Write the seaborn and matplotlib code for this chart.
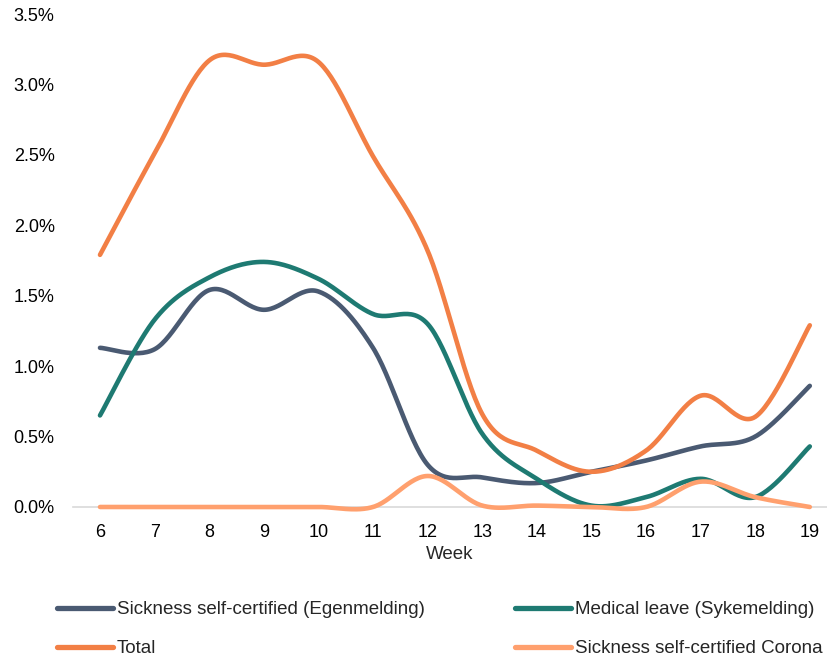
import numpy as np
import pandas as pd
import seaborn as sns
import matplotlib.pyplot as plt
from matplotlib.ticker import FuncFormatter

weeks = [6, 7, 8, 9, 10, 11, 12, 13, 14, 15, 16, 17, 18, 19]

# sickness absence, % of employees
egenmelding = [1.13, 1.12, 1.54, 1.40, 1.53, 1.13, 0.30, 0.21, 0.17, 0.25, 0.33, 0.43, 0.50, 0.86]
sykemelding = [0.65, 1.33, 1.63, 1.74, 1.62, 1.37, 1.30, 0.52, 0.20, 0.01, 0.07, 0.20, 0.07, 0.43]
total = [1.79, 2.51, 3.17, 3.14, 3.16, 2.49, 1.82, 0.66, 0.40, 0.25, 0.40, 0.79, 0.64, 1.29]
corona = [0.0, 0.0, 0.0, 0.0, 0.0, 0.0, 0.22, 0.01, 0.01, 0.0, 0.0, 0.18, 0.07, 0.0]

series_names = ["Sickness self-certified (Egenmelding)", "Medical leave (Sykemelding)",
                "Total", "Sickness self-certified Corona"]
colors = ["#4A5A72", "#1E7A72", "#F27F45", "#FFA06E"]


def smooth(x, y, n=30):
    # Excel-style smoothed line (Catmull-Rom through the points)
    x = np.asarray(x, float)
    y = np.asarray(y, float)
    xs, ys = [], []
    for i in range(len(x) - 1):
        x0, y0 = (x[i - 1], y[i - 1]) if i > 0 else (x[i], y[i])
        x3, y3 = (x[i + 2], y[i + 2]) if i + 2 < len(x) else (x[i + 1], y[i + 1])
        c1 = (x[i] + (x[i + 1] - x0) / 6, y[i] + (y[i + 1] - y0) / 6)
        c2 = (x[i + 1] - (x3 - x[i]) / 6, y[i + 1] - (y3 - y[i]) / 6)
        t = np.linspace(0, 1, n, endpoint=False)
        b = [(1 - t) ** 3, 3 * (1 - t) ** 2 * t, 3 * (1 - t) * t ** 2, t ** 3]
        xs.append(b[0] * x[i] + b[1] * c1[0] + b[2] * c2[0] + b[3] * x[i + 1])
        ys.append(b[0] * y[i] + b[1] * c1[1] + b[2] * c2[1] + b[3] * y[i + 1])
    xs.append([x[-1]])
    ys.append([y[-1]])
    return np.concatenate(xs), np.concatenate(ys)


frames = []
for name, vals in zip(series_names, [egenmelding, sykemelding, total, corona]):
    sx, sy = smooth(weeks, vals)
    frames.append(pd.DataFrame({"week": sx, "value": sy, "series": name}))
df = pd.concat(frames, ignore_index=True)

sns.set_style("white")
plt.rcParams['font.family'] = ['Liberation Sans', 'DejaVu Sans']

fig = plt.figure(figsize=(8.27, 6.58), dpi=100)
ax = fig.add_axes([0.0879, 0.2295, 0.9121, 0.7492])

sns.lineplot(data=df, x="week", y="value", hue="series", hue_order=series_names,
             palette=dict(zip(series_names, colors)), linewidth=3.3,
             sort=False, estimator=None, ax=ax, legend=False)
for line in ax.lines:
    line.set_solid_capstyle("round")
    line.set_clip_on(False)
    line.set_zorder(3)

ax.set_xlim(5.5, 19.315)
ax.set_ylim(0, 3.5)
ax.set_xticks(weeks)
ax.set_yticks(np.arange(0, 3.51, 0.5))
ax.yaxis.set_major_formatter(FuncFormatter(lambda v, p: f"{v:.1f}%"))
ax.tick_params(axis="both", length=0, labelsize=13, colors="black")
ax.tick_params(axis="y", pad=13)
ax.tick_params(axis="x", pad=12)
ax.set_xlabel("Week", fontsize=13.5, labelpad=3.5)
ax.set_ylabel("")
for s in ["top", "right", "left"]:
    ax.spines[s].set_visible(False)
ax.spines["bottom"].set_color("#D9D9D9")
ax.spines["bottom"].set_linewidth(1.2)
ax.spines["bottom"].set_zorder(1)

# legend: column-first order gives rows (Sickness, Medical) / (Total, Corona)
handles = [plt.Line2D([], [], color=c, lw=3.8, solid_capstyle="round") for c in colors]
order = [0, 2, 1, 3]
fig.legend([handles[i] for i in order], [series_names[i] for i in order],
           loc="upper left", bbox_to_anchor=(0.069, 1 - 601 / 658), ncol=2, frameon=False,
           fontsize=13.5, handlelength=3.0, handletextpad=0.2, columnspacing=4.8,
           labelspacing=1.17, borderpad=0, borderaxespad=0)

fig.savefig("out.png", dpi=100)
